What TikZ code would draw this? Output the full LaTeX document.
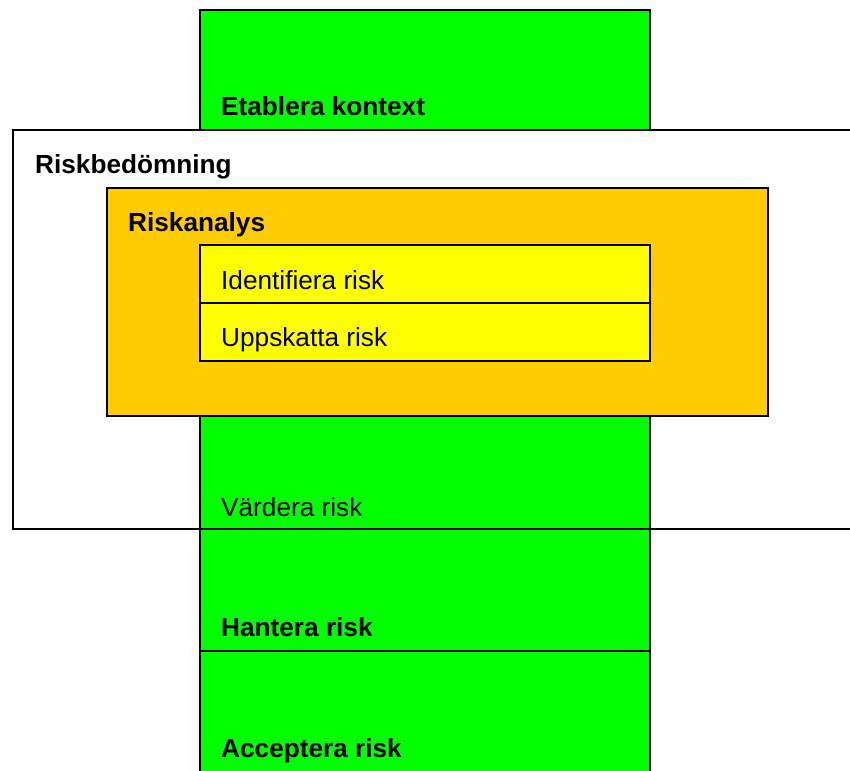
\documentclass[tikz,border=0pt]{standalone}
\usepackage{fontspec}
\setmainfont{Liberation Sans}
\definecolor{stepgreen}{HTML}{00FF00}
\definecolor{analysorange}{HTML}{FFCC00}
\definecolor{stepyellow}{HTML}{FFFF00}
\begin{document}
\begin{tikzpicture}[x=1pt,y=-1pt,
  boxline/.style={draw=black,line width=2pt},
  lbl/.style={anchor=base west,inner sep=0pt,font=\fontsize{26.2}{30}\selectfont},
  blbl/.style={lbl,font=\fontsize{26.2}{30}\selectfont\bfseries}]
\useasboundingbox (0,0) rectangle (850,770);
\fill[white] (0,0) rectangle (850,770);
% green column
\filldraw[boxline,fill=stepgreen] (200,10) rectangle (650,130);
\node[blbl] (etabl) at (221,116) {Etablera kontext};
% Riskbedömning
\filldraw[boxline,fill=white] (13,130) rectangle (860,529);
\node[blbl] (riskb) at (35,174) {Riskbedömning};
% Värdera
\filldraw[boxline,fill=stepgreen] (200,400) rectangle (650,529);
\node[lbl] (vard) at (221,516) {Värdera risk};
% Riskanalys
\filldraw[boxline,fill=analysorange] (107,188) rectangle (768,416);
\node[blbl] (riska) at (128,231) {Riskanalys};
\filldraw[boxline,fill=stepyellow] (200,245) rectangle (650,303);
\node[lbl] (ident) at (221,289) {Identifiera risk};
\filldraw[boxline,fill=stepyellow] (200,303) rectangle (650,361);
\node[lbl] (uppsk) at (221,346) {Uppskatta risk};
% Hantera / Acceptera
\filldraw[boxline,fill=stepgreen] (200,529) rectangle (650,651);
\node[blbl] (hant) at (221,636) {Hantera risk};
\filldraw[boxline,fill=stepgreen] (200,651) rectangle (650,790);
\node[blbl] (acc) at (221,757) {Acceptera risk};
\end{tikzpicture}
\end{document}
